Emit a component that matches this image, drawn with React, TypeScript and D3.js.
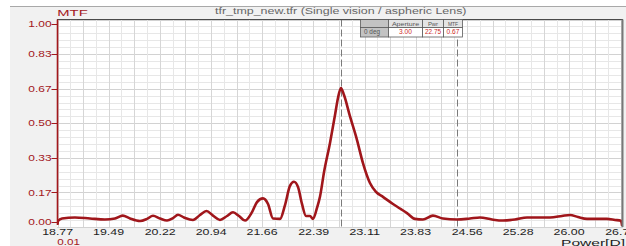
import { useEffect, useRef } from 'react';
import * as d3 from 'd3';

// curve
const powerValues = [18.768, 18.775, 18.832, 19.015, 19.227, 19.439, 19.581, 19.690, 19.793, 19.934,
    20.033, 20.118, 20.217, 20.316, 20.401, 20.471, 20.556, 20.683, 20.782, 20.874,
    20.966, 21.065, 21.164, 21.249, 21.334, 21.419, 21.518, 21.588, 21.673, 21.744,
    21.814, 21.913, 21.984, 22.054, 22.111, 22.168, 22.224, 22.281, 22.337, 22.380,
    22.436, 22.479, 22.536, 22.620, 22.691, 22.733, 22.775, 22.818, 22.903, 23.002,
    23.086, 23.185, 23.270, 23.369, 23.510, 23.609, 23.708, 23.821, 23.934, 24.075,
    24.217, 24.415, 24.599, 24.740, 24.910, 25.065, 25.235, 25.405, 25.588, 25.730,
    25.899, 26.012, 26.125, 26.253, 26.394, 26.535, 26.648, 26.733, 26.750];
const mtfValues = [0.012, 0.029, 0.041, 0.046, 0.041, 0.036, 0.041, 0.055, 0.041, 0.029,
    0.039, 0.054, 0.041, 0.031, 0.043, 0.059, 0.046, 0.034, 0.058, 0.077,
    0.055, 0.034, 0.053, 0.071, 0.053, 0.031, 0.072, 0.120, 0.138, 0.111,
    0.041, 0.039, 0.106, 0.198, 0.218, 0.193, 0.111, 0.053, 0.053, 0.039,
    0.092, 0.147, 0.265, 0.405, 0.540, 0.622, 0.670, 0.636, 0.533, 0.419,
    0.308, 0.212, 0.169, 0.145, 0.111, 0.089, 0.067, 0.039, 0.036, 0.055,
    0.041, 0.036, 0.041, 0.046, 0.036, 0.031, 0.036, 0.046, 0.046, 0.046,
    0.053, 0.058, 0.048, 0.039, 0.039, 0.039, 0.034, 0.030, 0.005];

const xTickLabels = ['18.77', '19.49', '20.22', '20.94', '21.66', '22.39', '23.11', '23.83', '24.56', '25.28', '26.00', '26.73'];
const yTickLabels = ['0.00', '0.17', '0.33', '0.50', '0.67', '0.83', '1.00'];
const markerPowers = [22.775, 24.415];
const tableHeader = ['', 'Aperture', 'Pwr', 'MTF'];
const tableRow = ['0 deg', '3.00', '22.75', '0.67'];
const startLabel = '0.01';
const titleText = 'tfr_tmp_new.tfr (Single vision / aspheric Lens)';

const WIDTH = 626, HEIGHT = 246;
const X_MIN = 18.768, X_MAX = 26.7265;
const plot = { left: 57, right: 623, top: 19.5, bottom: 227 };
const RED = '#a3181c';
const FONT = 'Liberation Sans, Arial, sans-serif';

// the reference is stretched sideways, so every text gets an explicit length
function wideText(g, str, x, y, width, size, color, weight = 'normal') {
    return g.append('text')
        .attr('x', x)
        .attr('y', y)
        .attr('textLength', width)
        .attr('lengthAdjust', 'spacingAndGlyphs')
        .style('font-family', FONT)
        .style('font-size', size + 'px')
        .style('font-weight', weight)
        .attr('fill', color)
        .text(str);
}

const renderChart = (node) => {
    const svg = d3.select(node);
    svg.selectAll('*').remove();

    const x = d3.scaleLinear().domain([X_MIN, X_MAX]).range([57.5, 620.5]);
    const y = d3.scaleLinear().domain([0, 1]).range([plot.bottom, plot.top]);

    // background panel
    svg.append('rect').attr('width', WIDTH).attr('height', HEIGHT).attr('fill', '#ffffff');
    svg.append('rect').attr('x', 10).attr('y', 6).attr('width', WIDTH - 10).attr('height', HEIGHT - 6).attr('fill', '#f1f1f1');
    svg.append('line').attr('x1', 10).attr('x2', WIDTH).attr('y1', 6.5).attr('y2', 6.5).attr('stroke', '#a8a8a8');
    svg.append('rect')
        .attr('x', plot.left).attr('y', plot.top)
        .attr('width', plot.right - plot.left).attr('height', plot.bottom - plot.top)
        .attr('fill', '#ffffff');

    // grid
    const grid = svg.append('g');
    d3.range(0, 31).forEach(i => {
        const yy = Math.round(y(i / 30)) + 0.5;
        grid.append('line')
            .attr('x1', plot.left).attr('x2', plot.right)
            .attr('y1', yy).attr('y2', yy)
            .attr('stroke', i % 5 === 0 ? '#d2d2d2' : '#e7e7e7');
    });
    const minorStep = (x(X_MAX) - x(X_MIN)) / 44;
    for (let k = 0; x(X_MIN) + k * minorStep <= plot.right; k++) {
        const xx = Math.round(x(X_MIN) + k * minorStep) + 0.5;
        grid.append('line')
            .attr('x1', xx).attr('x2', xx)
            .attr('y1', plot.top).attr('y2', plot.bottom)
            .attr('stroke', k % 2 === 0 ? '#d6d6d6' : '#e7e7e7');
    }

    // marker lines
    svg.selectAll('.marker')
        .data(markerPowers)
        .enter()
        .append('line')
        .attr('class', 'marker')
        .attr('x1', d => Math.round(x(d)) + 0.5).attr('x2', d => Math.round(x(d)) + 0.5)
        .attr('y1', plot.top).attr('y2', plot.bottom)
        .attr('stroke', '#7a7a7a')
        .attr('stroke-dasharray', '7,3');

    // curve
    svg.append('clipPath').attr('id', 'plot-clip')
        .append('rect')
        .attr('x', plot.left).attr('y', plot.top)
        .attr('width', plot.right - plot.left).attr('height', plot.bottom - plot.top - 1);
    const line = d3.line()
        .x((d, i) => x(powerValues[i]))
        .y(d => y(d))
        .curve(d3.curveMonotoneX);
    svg.append('path')
        .datum(mtfValues)
        .attr('clip-path', 'url(#plot-clip)')
        .attr('d', line)
        .attr('fill', 'none')
        .attr('stroke', '#a0161b')
        .attr('stroke-width', 2.6)
        .attr('stroke-linejoin', 'round');

    // frame
    svg.append('line').attr('x1', plot.left).attr('x2', plot.right).attr('y1', plot.top).attr('y2', plot.top)
        .attr('stroke', '#4a4a4a').attr('stroke-width', 1.2);
    svg.append('line').attr('x1', plot.right - 0.5).attr('x2', plot.right - 0.5).attr('y1', plot.top).attr('y2', plot.bottom)
        .attr('stroke', '#777777').attr('stroke-width', 2);
    svg.append('line').attr('x1', plot.left + 0.5).attr('x2', plot.left + 0.5).attr('y1', plot.top).attr('y2', plot.bottom - 2)
        .attr('stroke', RED).attr('stroke-width', 1.6);

    // y axis ticks and labels (edge labels are kept inside the frame)
    const yAxis = svg.append('g');
    yTickLabels.forEach((label, i) => {
        const ty = Math.min(Math.max(y(i / 6), plot.top + 4.3), plot.bottom - 5);
        yAxis.append('line')
            .attr('x1', 51.5).attr('x2', plot.left)
            .attr('y1', Math.round(ty) + 0.5).attr('y2', Math.round(ty) + 0.5)
            .attr('stroke', RED);
        wideText(yAxis, label, 28.3, ty + 3.2, 23.3, 9, RED);
    });

    // x axis labels
    const xAxis = svg.append('g');
    xTickLabels.forEach(label => {
        const tx = x(parseFloat(label));
        wideText(xAxis, label, tx - 15.5, 235, 31, 9, '#1e1e1e');
    });
    wideText(svg, startLabel, 57.3, 245, 22.7, 9, RED);
    wideText(svg, 'Power[D]', 561, 245.5, 64, 9.5, '#1e1e1e');

    // titles
    wideText(svg, 'MTF', 57.3, 16, 30.4, 9.5, RED);
    wideText(svg, titleText, 215, 13.8, 251.5, 9.2, '#666666');

    // info table
    const cols = [360.5, 388.5, 422.5, 443.5, 462.5];
    const rows = [19.5, 27.5, 37];
    const table = svg.append('g');
    [tableHeader, tableRow].forEach((cells, r) => {
        cells.forEach((cell, c) => {
            const fill = c === 0 ? '#c3c3c3' : (r === 0 ? '#e4e4e4' : '#ffffff');
            table.append('rect')
                .attr('x', cols[c]).attr('y', rows[r])
                .attr('width', cols[c + 1] - cols[c]).attr('height', rows[r + 1] - rows[r])
                .attr('fill', fill)
                .attr('stroke', '#5a5a5a')
                .attr('stroke-width', 0.8);
            if (cell === '') return;
            const color = r === 1 && c > 0 ? '#cc1f1f' : '#555555';
            const size = r === 0 ? 6 : 6.5;
            const w = cell.length * (r === 0 ? 3.4 : 3.2);
            const cx = c === 0 ? cols[c] + 3.5 : (cols[c] + cols[c + 1]) / 2 - w / 2;
            wideText(table, cell, cx, rows[r + 1] - (r === 0 ? 2 : 3), w, size, color);
        });
    });
};

const App = () => {
    const ref = useRef(null);

    useEffect(() => {
        document.body.style.margin = '0';
        renderChart(ref.current);
    }, []);

    return (
        <svg ref={ref} width={WIDTH} height={HEIGHT} style={{ display: 'block' }} />
    );
};

export default App;
